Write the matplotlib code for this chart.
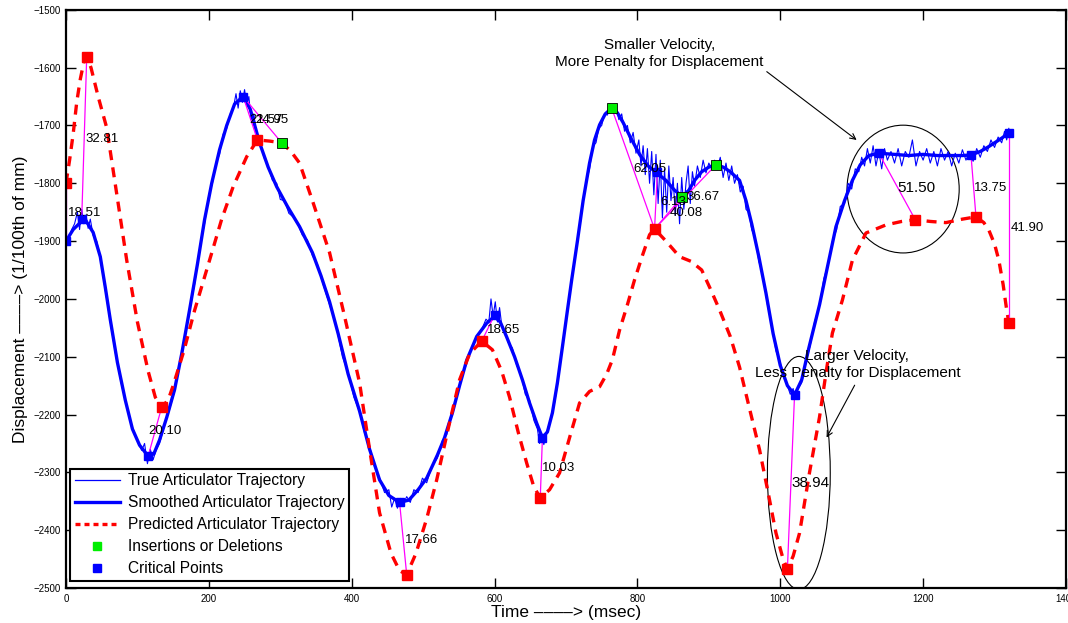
import matplotlib
matplotlib.use('Agg')
import matplotlib.pyplot as plt
from matplotlib.patches import Ellipse
from matplotlib.lines import Line2D

plt.rcParams['font.family'] = ['Liberation Sans', 'DejaVu Sans']

# smoothed articulator trajectory
smooth_t = [0, 10, 20, 28, 38, 48, 55, 62, 72, 83, 93, 103, 115, 123, 131, 141, 152, 162, 173, 184,
            194, 204, 215, 225, 236, 248, 258, 271, 283, 295, 310, 327, 345, 357, 369, 381, 395, 411,
            425, 439, 452, 467, 480, 493, 505, 520, 530, 541, 551, 561, 575, 589, 600, 608, 617, 628,
            639, 649, 659, 667, 674, 681, 688, 695, 702, 708, 716, 724, 733, 740, 747, 755, 764, 772,
            780, 790, 803, 815, 827, 840, 852, 863, 872, 880, 890, 900, 910, 920, 930, 943, 952, 960,
            970, 980, 990, 1000, 1010, 1020, 1030, 1040, 1055, 1066, 1078, 1090, 1101, 1112, 1124,
            1138, 1160, 1180, 1200, 1220, 1240, 1255, 1267, 1280, 1290, 1300, 1310, 1320]
smooth_y = [-1900, -1880, -1868, -1865, -1885, -1927, -1980, -2036, -2110, -2175, -2225, -2253, -2272,
            -2268, -2244, -2205, -2157, -2095, -2019, -1940, -1863, -1800, -1742, -1700, -1663, -1650,
            -1672, -1730, -1772, -1806, -1840, -1875, -1920, -1960, -2005, -2060, -2130, -2194, -2260,
            -2313, -2340, -2352, -2348, -2330, -2310, -2270, -2240, -2197, -2150, -2106, -2065, -2042,
            -2030, -2040, -2066, -2100, -2140, -2180, -2215, -2240, -2230, -2197, -2145, -2083, -2020,
            -1967, -1900, -1830, -1765, -1725, -1699, -1680, -1670, -1678, -1695, -1720, -1750, -1770,
            -1782, -1795, -1812, -1823, -1812, -1795, -1780, -1772, -1768, -1772, -1780, -1795, -1830,
            -1870, -1927, -1990, -2060, -2115, -2150, -2166, -2140, -2085, -2010, -1945, -1875, -1830,
            -1795, -1768, -1752, -1748, -1750, -1752, -1750, -1752, -1752, -1752, -1751, -1745, -1738,
            -1730, -1722, -1713]

# true (noisy) articulator trajectory
true_t = [0, 4, 8, 12, 16, 19, 22, 25, 28, 31, 34, 38, 43, 48, 55, 62, 70, 78, 86, 93, 100, 106, 110,
          114, 118, 122, 126, 131, 137, 144, 152, 158, 165, 173, 180, 188, 194, 200, 205, 210, 215, 220,
          225, 230, 234, 238, 241, 244, 247, 250, 253, 256, 259, 263, 267, 272, 277, 283, 289, 295, 300,
          306, 312, 318, 325, 331, 338, 345, 352, 360, 369, 378, 387, 395, 403, 411, 418, 425, 432, 439,
          446, 452, 456, 460, 464, 468, 472, 477, 482, 487, 493, 499, 505, 512, 520, 527, 533, 540, 547,
          553, 560, 566, 572, 578, 583, 588, 592, 595, 598, 601, 604, 607, 610, 614, 619, 625, 631, 637,
          643, 649, 655, 660, 663, 666, 669, 672, 676, 680, 684, 688, 692, 696, 701, 706, 711, 716, 720,
          724, 729, 733, 738, 742, 746, 750, 754, 758, 762, 766, 770, 774, 778, 782, 786, 790, 794, 798,
          802, 805, 808, 811, 814, 817, 820, 823, 826, 829, 832, 835, 838, 841, 844, 847, 850, 853, 856,
          859, 862, 865, 868, 871, 874, 877, 880, 884, 888, 892, 896, 900, 904, 908, 912, 916, 920, 924,
          928, 932, 936, 940, 944, 948, 952, 956, 960, 965, 970, 976, 982, 988, 994, 1000, 1005, 1010,
          1014, 1018, 1021, 1025, 1030, 1036, 1042, 1048, 1055, 1061, 1067, 1073, 1079, 1084, 1090,
          1095, 1100, 1105, 1110, 1114, 1118, 1122, 1126, 1130, 1134, 1138, 1142, 1146, 1150, 1155,
          1160, 1165, 1170, 1175, 1180, 1185, 1190, 1195, 1200, 1205, 1210, 1215, 1220, 1225, 1230,
          1235, 1240, 1245, 1250, 1255, 1260, 1265, 1270, 1275, 1280, 1285, 1290, 1295, 1300, 1305,
          1310, 1314, 1317, 1320]
true_y = [-1900, -1895, -1880, -1870, -1850, -1880, -1845, -1870, -1855, -1878, -1862, -1890, -1900,
          -1930, -1985, -2040, -2100, -2150, -2190, -2222, -2245, -2262, -2250, -2285, -2260, -2278,
          -2262, -2250, -2222, -2195, -2160, -2120, -2075, -2020, -1975, -1905, -1870, -1820, -1800,
          -1765, -1750, -1715, -1705, -1680, -1672, -1645, -1670, -1640, -1660, -1638, -1665, -1650,
          -1690, -1680, -1720, -1728, -1755, -1770, -1795, -1800, -1828, -1830, -1852, -1858, -1872,
          -1890, -1898, -1925, -1940, -1975, -2010, -2045, -2100, -2128, -2170, -2195, -2232, -2255,
          -2290, -2310, -2335, -2330, -2360, -2345, -2362, -2345, -2355, -2342, -2352, -2330, -2335,
          -2310, -2318, -2290, -2275, -2245, -2235, -2195, -2170, -2140, -2115, -2090, -2075, -2060,
          -2050, -2035, -2040, -2000, -2030, -2005, -2040, -2015, -2045, -2055, -2075, -2085, -2115,
          -2130, -2165, -2175, -2210, -2225, -2250, -2235, -2252, -2235, -2218, -2200, -2180, -2150,
          -2110, -2075, -2030, -1985, -1945, -1895, -1870, -1830, -1795, -1775, -1735, -1730, -1705,
          -1700, -1680, -1682, -1665, -1675, -1668, -1690, -1680, -1710, -1700, -1730, -1712, -1748,
          -1725, -1770, -1735, -1785, -1740, -1800, -1745, -1820, -1750, -1835, -1760, -1860, -1775,
          -1850, -1770, -1830, -1790, -1855, -1800, -1870, -1790, -1845, -1800, -1770, -1835, -1780,
          -1805, -1770, -1790, -1760, -1782, -1765, -1775, -1760, -1772, -1755, -1790, -1765, -1795,
          -1770, -1800, -1785, -1815, -1805, -1845, -1850, -1880, -1895, -1935, -1960, -2010, -2045,
          -2090, -2110, -2135, -2150, -2165, -2155, -2172, -2155, -2145, -2110, -2080, -2040, -2010,
          -1965, -1940, -1900, -1880, -1840, -1835, -1800, -1810, -1775, -1780, -1755, -1770, -1740,
          -1765, -1735, -1770, -1745, -1775, -1740, -1760, -1745, -1765, -1740, -1770, -1745, -1755,
          -1725, -1770, -1745, -1760, -1740, -1765, -1745, -1770, -1740, -1760, -1745, -1770, -1748,
          -1765, -1742, -1760, -1745, -1762, -1740, -1755, -1735, -1745, -1725, -1738, -1720, -1730,
          -1710, -1725, -1705]

# predicted articulator trajectory
pred_t = [0, 5, 10, 15, 20, 25, 29, 35, 45, 57, 70, 85, 100, 115, 125, 134, 143, 150, 165, 180, 201,
          218, 234, 253, 268, 285, 302, 315, 327, 345, 369, 390, 411, 425, 439, 455, 467, 477, 490, 505,
          519, 535, 551, 565, 582, 597, 610, 621, 633, 645, 655, 664, 677, 691, 705, 719, 733, 747, 757,
          765, 775, 786, 796, 807, 817, 824, 840, 859, 875, 890, 903, 915, 930, 943, 957, 971, 983, 994,
          1004, 1010, 1018, 1027, 1041, 1055, 1065, 1073, 1087, 1101, 1120, 1148, 1170, 1189, 1210,
          1232, 1255, 1274, 1285, 1292, 1300, 1306, 1312, 1317, 1320]
pred_y = [-1800, -1760, -1715, -1660, -1620, -1590, -1581, -1600, -1650, -1704, -1810, -1933, -2040,
          -2125, -2170, -2187, -2175, -2150, -2090, -2020, -1933, -1862, -1806, -1754, -1725, -1727,
          -1730, -1745, -1765, -1830, -1920, -2030, -2145, -2260, -2370, -2440, -2470, -2477, -2440,
          -2380, -2313, -2225, -2140, -2095, -2073, -2088, -2125, -2170, -2230, -2284, -2325, -2344,
          -2330, -2301, -2240, -2180, -2160, -2152, -2130, -2105, -2054, -2010, -1967, -1925, -1889,
          -1879, -1900, -1927, -1935, -1950, -1985, -2019, -2065, -2118, -2190, -2261, -2335, -2405,
          -2450, -2467, -2445, -2405, -2300, -2204, -2120, -2059, -2002, -1933, -1886, -1872, -1866,
          -1863, -1866, -1868, -1862, -1858, -1868, -1881, -1905, -1933, -1975, -2019, -2041]

# predicted points (red squares)
red_t = [0, 29, 134, 268, 477, 582, 664, 824, 1010, 1189, 1274, 1320]
red_y = [-1800, -1581, -2187, -1725, -2477, -2073, -2344, -1879, -2467, -1863, -1858, -2041]

# critical points (blue squares)
crit_t = [0, 22, 115, 248, 467, 600, 667, 828, 1020, 1138, 1267, 1320]
crit_y = [-1900, -1862, -2272, -1650, -2352, -2028, -2240, -1780, -2166, -1748, -1751, -1713]

# insertions or deletions (green squares)
green_t = [302, 764, 863, 910]
green_y = [-1730, -1670, -1823, -1768]

# magenta links: (t0, y0, t1, y1)
link_t0 = [0, 29, 134, 268, 302, 477, 582, 664, 824, 824, 824, 824, 1010, 1189, 1274, 1320]
link_y0 = [-1800, -1581, -2187, -1725, -1730, -2477, -2073, -2344, -1879, -1879, -1879, -1879, -2467,
           -1863, -1858, -2041]
link_t1 = [0, 22, 115, 248, 248, 467, 600, 667, 764, 828, 863, 910, 1020, 1138, 1267, 1320]
link_y1 = [-1900, -1862, -2272, -1650, -1650, -2352, -2028, -2240, -1670, -1780, -1823, -1768, -2166,
           -1748, -1751, -1713]

dist_labels = ['18.51', '32.81', '20.10', '21.57', '24.95', '17.66', '18.65', '10.03', '62.05', '6.13',
               '40.08', '36.67', '38.94', '51.50', '13.75', '41.90']
label_t = [3, 27, 115, 257, 265, 474, 590, 667, 794, 832, 845, 868, 1015, 1164, 1271, 1322]
label_y = [-1851, -1723, -2229, -1690, -1690, -2417, -2054, -2292, -1775, -1832, -1851, -1823, -2318,
           -1808, -1808, -1877]
label_size = [9.5, 9.5, 9.5, 9.5, 9.5, 9.5, 9.5, 9.5, 9.5, 9.5, 9.5, 9.5, 11, 11, 9.5, 9.5]

fig = plt.figure(figsize=(10.68, 6.23), dpi=100)
ax = fig.add_axes([0.0618, 0.0562, 0.9363, 0.928])

ax.plot(true_t, true_y, color='blue', lw=0.8)
ax.plot(smooth_t, smooth_y, color='blue', lw=2.4)
ax.plot(pred_t, pred_y, color='red', lw=2.4, linestyle=(0, (3, 2.2)))

for i in range(len(link_t0)):
    ax.plot([link_t0[i], link_t1[i]], [link_y0[i], link_y1[i]], color='magenta', lw=0.9)

ax.plot(red_t, red_y, 's', color='red', markersize=6.5, markeredgecolor='red')
ax.plot(crit_t, crit_y, 's', color='blue', markersize=6, markeredgecolor='blue')
ax.plot(green_t, green_y, 's', color='#00ee00', markersize=6.5, markeredgecolor='k', markeredgewidth=0.6)

for i in range(len(dist_labels)):
    ax.text(label_t[i], label_y[i], dist_labels[i], fontsize=label_size[i], va='center', ha='left')

ax.add_patch(Ellipse((1172, -1810), 157, 221, fill=False, edgecolor='k', lw=0.8))
ax.add_patch(Ellipse((1026, -2301), 88, 403, fill=False, edgecolor='k', lw=0.8))

ax.text(831, -1575, 'Smaller Velocity,\nMore Penalty for Displacement', ha='center', va='center',
        fontsize=11, linespacing=1.25)
ax.annotate('', xy=(1110, -1728), xytext=(978, -1604),
            arrowprops=dict(arrowstyle='->', color='k', lw=0.8))
ax.text(1108, -2114, 'Larger Velocity,\nLess Penalty for Displacement', ha='center', va='center',
        fontsize=11, linespacing=1.25)
ax.annotate('', xy=(1063, -2244), xytext=(1106, -2145),
            arrowprops=dict(arrowstyle='->', color='k', lw=0.8))

ax.set_xlim(0, 1400)
ax.set_ylim(-2500, -1500)
ax.set_xticks(range(0, 1401, 200))
ax.set_yticks(range(-2500, -1499, 100))
ax.tick_params(direction='in', length=7, width=1, top=True, right=True, labelsize=7, pad=4)
for s in ax.spines.values():
    s.set_linewidth(1.6)

ax.set_xlabel('Time \u2013\u2013\u2013\u2013> (msec)', fontsize=12.5, labelpad=1)
ax.set_ylabel('Displacement \u2013\u2013\u2013\u2013> (1/100th of mm)', fontsize=12.5, labelpad=4)

handles = [Line2D([], [], color='blue', lw=0.9),
           Line2D([], [], color='blue', lw=2.4),
           Line2D([], [], color='red', lw=2.4, linestyle=(0, (1.5, 1.2))),
           Line2D([], [], marker='s', color='#00ee00', linestyle='none', markersize=6),
           Line2D([], [], marker='s', color='blue', linestyle='none', markersize=6)]
names = ['True Articulator Trajectory', 'Smoothed Articulator Trajectory', 'Predicted Articulator Trajectory',
         'Insertions or Deletions', 'Critical Points']
leg = ax.legend(handles, names, loc='lower left', bbox_to_anchor=(0.004, 0.012), borderaxespad=0,
                fontsize=11.2, fancybox=False, edgecolor='k', framealpha=1,
                labelspacing=0.45, handlelength=2.9, handletextpad=0.5, borderpad=0.3)
leg.get_frame().set_linewidth(1.5)

fig.savefig('out.png', dpi=100)
